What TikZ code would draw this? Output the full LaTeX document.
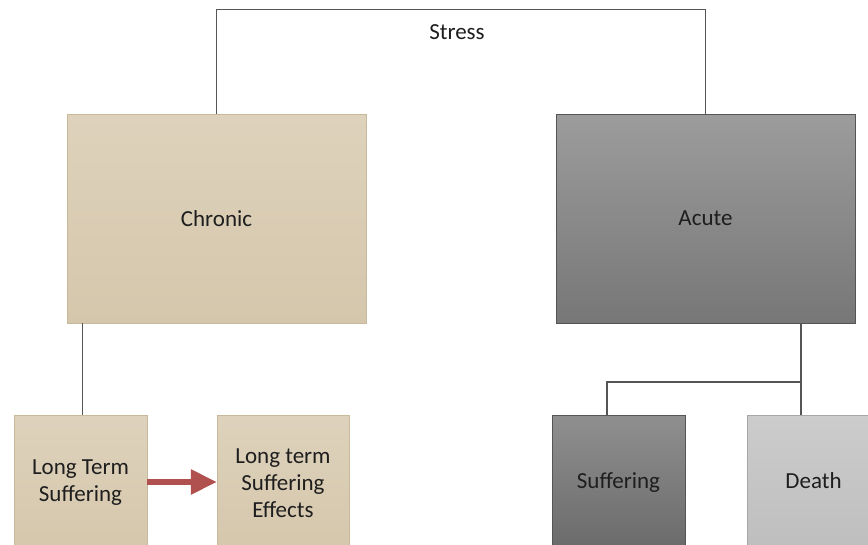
\documentclass[tikz,border=0pt]{standalone}
\usepackage{fontspec}
\setmainfont{Carlito}
\usetikzlibrary{arrows.meta}
\definecolor{tanTop}{HTML}{DED2BC}
\definecolor{tanBot}{HTML}{D5C7AC}
\definecolor{tanLine}{HTML}{C9B99B}
\definecolor{acTop}{HTML}{9C9C9C}
\definecolor{acBot}{HTML}{777777}
\definecolor{sfTop}{HTML}{8F8F8F}
\definecolor{sfBot}{HTML}{6A6A6A}
\definecolor{dtTop}{HTML}{CCCCCC}
\definecolor{dtBot}{HTML}{BEBEBE}
\definecolor{conn}{HTML}{555555}
\definecolor{arrowred}{HTML}{B0504F}
\definecolor{txt}{HTML}{1E1E1E}
\begin{document}
\begin{tikzpicture}[x=1pt,y=-1pt,
  box/.style={rectangle, inner sep=0pt, align=center, text=txt,
    font=\fontsize{23}{27}\selectfont},
  tanbox/.style={box, draw=tanLine, top color=tanTop, bottom color=tanBot},
  acbox/.style={box, draw=conn, top color=acTop, bottom color=acBot},
  sfbox/.style={box, draw=conn, top color=sfTop, bottom color=sfBot},
  dtbox/.style={box, draw=gray!70, top color=dtTop, bottom color=dtBot},
  link/.style={draw=conn, line width=1.1pt}]
\useasboundingbox (0,0) rectangle (868,544);
\clip (0,0) rectangle (868,544);
\fill[white] (0,0) rectangle (868,544);
\node[tanbox, minimum width=299pt, minimum height=209pt] (chronic) at (216.5,218.5) {Chronic};
\node[acbox, minimum width=299pt, minimum height=209pt] (acute) at (705.5,218.5) {Acute};
\node[box] (stress) at (457,32) {Stress};
\node[tanbox, minimum width=133pt, minimum height=136pt] (lts) at (80.5,483) {Long Term\\Suffering};
\node[tanbox, minimum width=132pt, minimum height=136pt] (ltse) at (283,483) {Long term\\Suffering\\Effects};
\node[sfbox, minimum width=133pt, minimum height=136pt] (suf) at (618.5,483) {\raisebox{-6pt}{Suffering}};
\node[dtbox, minimum width=133pt, minimum height=136pt] (death) at (813.5,483) {\raisebox{4pt}{Death}};
\draw[link] (chronic.north) -- ++(0,-104) -| (acute.north);
\draw[link] ([xshift=16pt]chronic.south west) -- ([xshift=16pt]chronic.south west |- lts.north);
\coordinate (ac) at (801,323);
\coordinate (mid) at (801,382);
\draw[link] (ac) -- (ac |- death.north);
\draw[link] (mid) -| ([xshift=-11.5pt]suf.north);
\draw[arrowred, line width=6pt, -{Triangle[length=26pt,width=24pt]}] (lts.east |- 0,482) -- (ltse.west |- 0,482);
\end{tikzpicture}
\end{document}
